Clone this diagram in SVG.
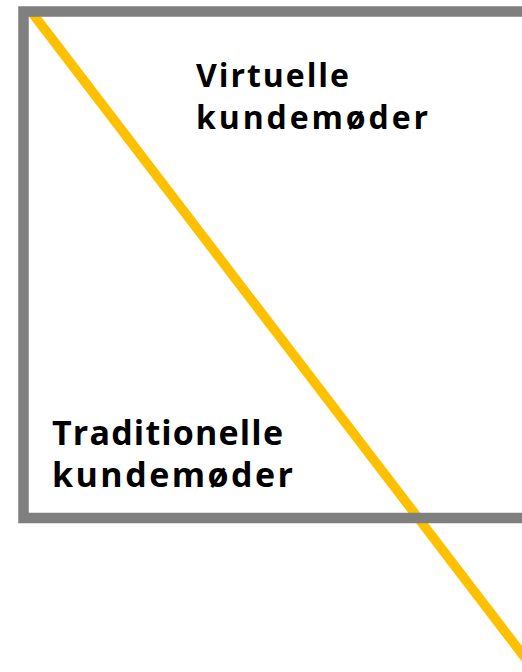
<svg xmlns="http://www.w3.org/2000/svg" width="522" height="672" viewBox="0 0 522 672">
  <style>
    .lbl { font-family: "Open Sans", "Noto Sans", "DejaVu Sans", sans-serif; font-weight: 700; fill: #000000; }
    .top { font-size: 32px; }
    .bot { font-size: 34px; }
  </style>
  <rect width="522" height="672" fill="#ffffff"/>
  <g id="connectors">
    <line x1="30" y1="10" x2="542" y2="680" stroke="#FFC000" stroke-width="9.5"/>
  </g>
  <g id="frame">
    <rect x="23.5" y="11.5" width="530" height="506.5" fill="none" stroke="#7f7f7f" stroke-width="10.5"/>
  </g>
  <g id="virtual">
    <text class="lbl top" x="196" y="87" textLength="153" lengthAdjust="spacing">Virtuelle</text>
    <text class="lbl top" x="196" y="129" textLength="232" lengthAdjust="spacing">kundemøder</text>
  </g>
  <g id="traditional">
    <text class="lbl bot" x="52" y="445" textLength="231" lengthAdjust="spacing">Traditionelle</text>
    <text class="lbl bot" x="52" y="487" textLength="241" lengthAdjust="spacing">kundemøder</text>
  </g>
</svg>
